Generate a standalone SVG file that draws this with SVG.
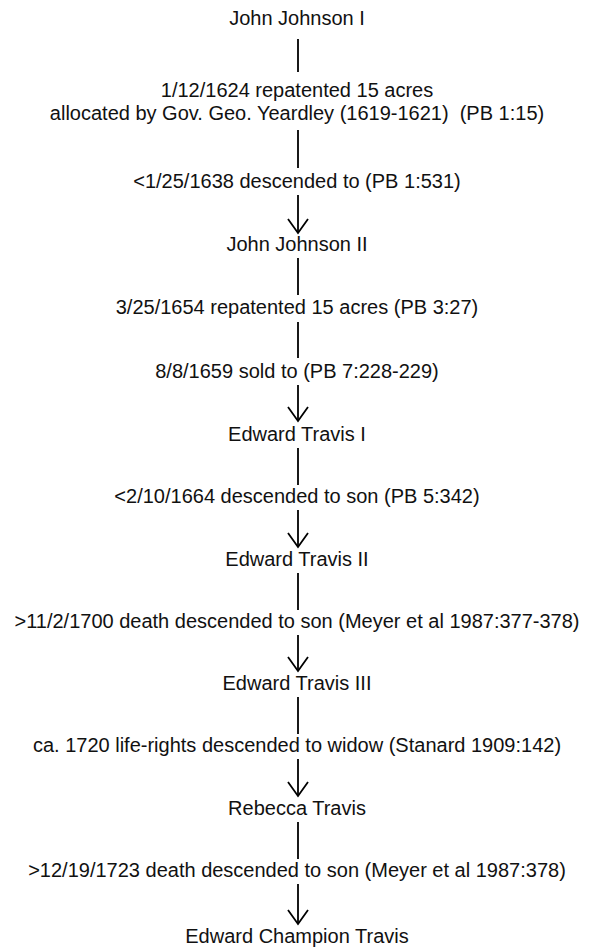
<svg xmlns="http://www.w3.org/2000/svg" width="589" height="949" viewBox="0 0 589 949">
  <style>
    text { font-family: "Liberation Sans", Arial, sans-serif; font-size: 20px; fill: #111; text-anchor: middle; white-space: pre; }
    .link { stroke: #000; stroke-width: 1.8; fill: none; }
    .arrow { marker-end: url(#chev); }
  </style>
  <defs>
    <!-- open chevron arrowhead, tip at the line end -->
    <marker id="chev" markerUnits="userSpaceOnUse" orient="auto" overflow="visible" refX="0" refY="0" markerWidth="20" markerHeight="24">
      <path d="M-14,-10 L0,0 L-14,10" fill="none" stroke="#000" stroke-width="1.8"/>
    </marker>
  </defs>
  <rect width="589" height="949" fill="#fff"/>

  <!-- connectors: plain rules into each transfer note, arrows into each new owner -->
  <g id="connectors">
    <line class="link" x1="298" y1="39" x2="298" y2="72"/>
    <line class="link" x1="298" y1="130" x2="298" y2="168"/>
    <line class="link arrow" x1="298" y1="195" x2="298" y2="233"/>
    <line class="link" x1="298" y1="258" x2="298" y2="295"/>
    <line class="link" x1="298" y1="322" x2="298" y2="358"/>
    <line class="link arrow" x1="298" y1="385" x2="298" y2="421"/>
    <line class="link" x1="298" y1="448" x2="298" y2="485"/>
    <line class="link arrow" x1="298" y1="510" x2="298" y2="547"/>
    <line class="link" x1="298" y1="573" x2="298" y2="610"/>
    <line class="link arrow" x1="298" y1="635" x2="298" y2="671"/>
    <line class="link" x1="298" y1="697" x2="298" y2="734"/>
    <line class="link arrow" x1="298" y1="759" x2="298" y2="796"/>
    <line class="link" x1="298" y1="822" x2="298" y2="859"/>
    <line class="link arrow" x1="298" y1="884" x2="298" y2="924"/>
  </g>

  <!-- transfer notes on the connectors -->
  <g id="labels">
    <text x="297" y="97">1/12/1624 repatented 15 acres</text>
    <text x="297" y="120">allocated by Gov. Geo. Yeardley (1619-1621)  (PB 1:15)</text>
    <text x="297" y="188">&lt;1/25/1638 descended to (PB 1:531)</text>
    <text x="297" y="314">3/25/1654 repatented 15 acres (PB 3:27)</text>
    <text x="297" y="378">8/8/1659 sold to (PB 7:228-229)</text>
    <text x="297" y="503">&lt;2/10/1664 descended to son (PB 5:342)</text>
    <text x="297" y="628">&gt;11/2/1700 death descended to son (Meyer et al 1987:377-378)</text>
    <text x="297" y="752">ca. 1720 life-rights descended to widow (Stanard 1909:142)</text>
    <text x="297" y="877">&gt;12/19/1723 death descended to son (Meyer et al 1987:378)</text>
  </g>

  <!-- owners -->
  <g id="john-johnson-1"><text x="297" y="25">John Johnson I</text></g>
  <g id="john-johnson-2"><text x="297" y="251">John Johnson II</text></g>
  <g id="edward-travis-1"><text x="297" y="441">Edward Travis I</text></g>
  <g id="edward-travis-2"><text x="297" y="566">Edward Travis II</text></g>
  <g id="edward-travis-3"><text x="297" y="690">Edward Travis III</text></g>
  <g id="rebecca-travis"><text x="297" y="815">Rebecca Travis</text></g>
  <g id="edward-champion-travis"><text x="297" y="943">Edward Champion Travis</text></g>
</svg>
